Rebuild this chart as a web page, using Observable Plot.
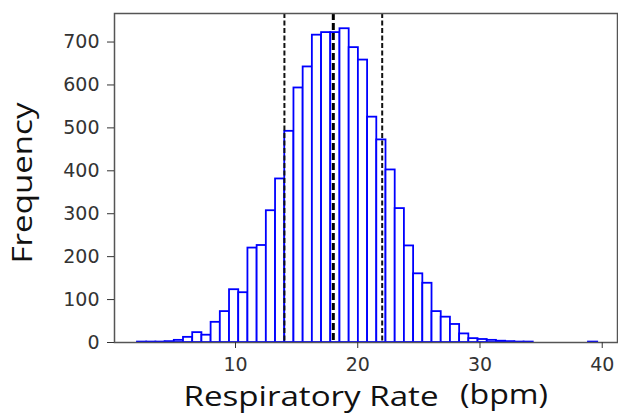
<!DOCTYPE html>
<html>
<head>
<meta charset="utf-8">
<script src="https://cdn.jsdelivr.net/npm/d3@7"></script>
<script src="https://cdn.jsdelivr.net/npm/@observablehq/plot@0.6"></script>
<style>
  html, body { margin: 0; padding: 0; background: #fff; }
</style>
</head>
<body>
<div id="chart"></div>
<script>
// Histogram bin edges (bpm)
const binEdges = [1.980, 2.733, 3.486, 4.239, 4.992, 5.745, 6.498, 7.251, 8.004, 8.757,
  9.510, 10.263, 11.016, 11.769, 12.522, 13.275, 14.028, 14.781, 15.534, 16.287,
  17.040, 17.793, 18.546, 19.299, 20.052, 20.805, 21.558, 22.311, 23.064, 23.817,
  24.570, 25.323, 26.076, 26.829, 27.582, 28.335, 29.088, 29.841, 30.594, 31.347,
  32.100, 32.853, 33.606, 34.359, 35.112, 35.865, 36.618, 37.371, 38.124, 38.877, 39.630];
// Frequency per bin
const counts = [1, 1, 1, 2, 5, 12, 23, 17, 47, 72,
  123, 116, 220, 226, 307, 381, 492, 593, 642, 716,
  722, 722, 731, 687, 658, 525, 472, 402, 312, 225,
  160, 138, 72, 59, 42, 20, 9, 7, 5, 3,
  2, 1, 1, 0, 0, 0, 0, 0, 0, 1];
const meanLine = [18];
const sdLines = [14, 22];
const xTicks = [10, 20, 30, 40];
const yTicks = [0, 100, 200, 300, 400, 500, 600, 700];
const xLabel = "Respiratory Rate";
const xUnit = "(bpm)";
const yLabel = "Frequency";

const bars = counts
  .map((c, i) => ({x1: binEdges[i], x2: binEdges[i + 1], count: c}))
  .filter(d => d.count > 0);

const chart = Plot.plot({
  width: 618,
  height: 416,
  marginLeft: 114,
  marginRight: 1,
  marginTop: 13,
  marginBottom: 74,
  style: {fontFamily: "DejaVu Sans", background: "white"},
  x: {domain: [0.1, 41.25]},
  y: {domain: [0, 766.5]},
  marks: [
    Plot.rectY(bars, {x1: "x1", x2: "x2", y: "count", fill: "white", stroke: "#0000ff", strokeWidth: 1.8, inset: 0}),
    Plot.ruleX(sdLines, {stroke: "#111", strokeWidth: 2, strokeDasharray: "5,2.5"}),
    Plot.ruleX(meanLine, {stroke: "#000", strokeWidth: 3, strokeDasharray: "7,3"}),
    Plot.frame({stroke: "#555", strokeWidth: 1.5}),
    Plot.axisX({ticks: xTicks, tickSize: 6, tickPadding: 9, fontSize: 19, label: null, color: "#333"}),
    Plot.axisY({ticks: yTicks, tickSize: 7, tickPadding: 8, fontSize: 19, label: null, color: "#333"}),
    Plot.text([xLabel], {frameAnchor: "bottom", dx: -55, dy: 55, fontSize: 28, fontFamily: "Open Sans", fill: "#111", textAnchor: "middle", lineAnchor: "middle"}),
    Plot.text([xUnit], {frameAnchor: "bottom", dx: 138, dy: 53, fontSize: 27, fontFamily: "Open Sans", fill: "#111", textAnchor: "middle", lineAnchor: "middle"}),
    Plot.text([yLabel], {frameAnchor: "left", dx: -91, dy: 5, rotate: -90, fontSize: 28, fontFamily: "Open Sans", fill: "#111", textAnchor: "middle", lineAnchor: "middle"})
  ]
});

// stretch axis titles to the reference widths
d3.select(chart).selectAll("text").each(function() {
  const t = this.textContent;
  if (t === xLabel) d3.select(this).attr("textLength", 255).attr("lengthAdjust", "spacingAndGlyphs");
  if (t === xUnit) d3.select(this).attr("textLength", 88).attr("lengthAdjust", "spacingAndGlyphs");
  if (t === yLabel) d3.select(this).attr("textLength", 161).attr("lengthAdjust", "spacingAndGlyphs");
});

document.getElementById("chart").appendChild(chart);
</script>
</body>
</html>
